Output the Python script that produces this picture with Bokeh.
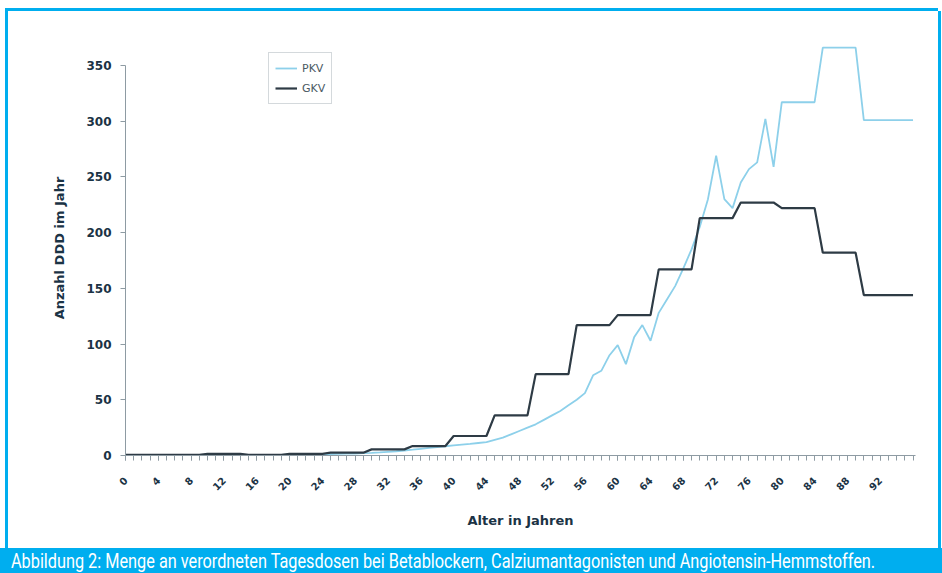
import math
from bokeh.plotting import figure
from bokeh.layouts import column, row
from bokeh.models import (Div, Spacer, Legend, LegendItem, FixedTicker, Range1d)
from bokeh.embed import file_html
from bokeh.resources import INLINE

# ---- data -------------------------------------------------------------
AGES = list(range(0, 97))

PKV = [0.3, 0.3, 0.3, 0.3, 0.3, 0.3, 0.3, 0.3, 0.3, 0.3,
       0.5, 0.5, 0.5, 0.5, 0.5, 0.5, 0.5, 0.5, 0.5, 0.5,
       0.8, 0.9, 1.0, 1.1, 1.2, 1.3, 1.5, 1.6, 1.8, 2.1,
       2.4, 2.8, 3.3, 3.8, 4.5, 5.2, 6.0, 6.8, 7.5, 8.3,
       9.0, 9.7, 10.4, 11.2, 12.0, 14.0, 16.0, 19.0, 22.0, 25.0,
       28.0, 32.0, 36.0, 40.0, 45.0, 50.0, 56.0, 72.0, 76.0, 90.0,
       99.0, 82.0, 106.0, 117.0, 103.0, 128.0, 140.0, 152.0, 168.0, 185.0,
       205.0, 230.0, 269.0, 230.0, 222.0, 245.0, 257.0, 263.0, 302.0, 259.0,
       317.0, 317.0, 317.0, 317.0, 317.0, 366.0, 366.0, 366.0, 366.0, 366.0,
       301.0, 301.0, 301.0, 301.0, 301.0, 301.0, 301.0]

GKV = [0.5, 0.5, 0.5, 0.5, 0.5, 0.5, 0.5, 0.5, 0.5, 0.5,
       1.5, 1.5, 1.5, 1.5, 1.5, 0.5, 0.5, 0.5, 0.5, 0.5,
       1.5, 1.5, 1.5, 1.5, 1.5, 2.5, 2.5, 2.5, 2.5, 2.5,
       5.5, 5.5, 5.5, 5.5, 5.5, 8.5, 8.5, 8.5, 8.5, 8.5,
       17.5, 17.5, 17.5, 17.5, 17.5, 36.0, 36.0, 36.0, 36.0, 36.0,
       73.0, 73.0, 73.0, 73.0, 73.0, 117.0, 117.0, 117.0, 117.0, 117.0,
       126.0, 126.0, 126.0, 126.0, 126.0, 167.0, 167.0, 167.0, 167.0, 167.0,
       213.0, 213.0, 213.0, 213.0, 213.0, 227.0, 227.0, 227.0, 227.0, 227.0,
       222.0, 222.0, 222.0, 222.0, 222.0, 182.0, 182.0, 182.0, 182.0, 182.0,
       144.0, 144.0, 144.0, 144.0, 144.0, 144.0, 144.0]

X_TICKS = [0, 4, 8, 12, 16, 20, 24, 28, 32, 36, 40, 44, 48, 52, 56, 60,
           64, 68, 72, 76, 80, 84, 88, 92]
Y_TICKS = [0, 50, 100, 150, 200, 250, 300, 350]

SERIES_NAMES = ["PKV", "GKV"]
X_TITLE = "Alter in Jahren"
Y_TITLE = "Anzahl DDD im Jahr"
CAPTION = ("Abbildung 2: Menge an verordneten Tagesdosen bei Betablockern, "
           "Calziumantagonisten und Angiotensin-Hemmstoffen.")

# ---- styling ----------------------------------------------------------
CYAN = "#00aeef"
LIGHT = "#8dd0ea"
DARK = "#2e3b45"
TXT = "#1b3345"
AXIS = "#8e9ba3"
BOLD_FONT = "DejaVu Sans"

PW, PH = 930, 537   # chart figure inside the cyan frame

p = figure(width=PW, height=PH, output_backend="svg", toolbar_location=None,
           x_range=Range1d(0, 96.3), y_range=Range1d(0, 372.4),
           min_border_left=117, min_border_right=23,
           min_border_top=29, min_border_bottom=93)
p.outline_line_color = None
p.grid.visible = False
p.background_fill_color = "white"
p.border_fill_color = "white"

r_pkv = p.line(AGES, PKV, line_color=LIGHT, line_width=1.8)
r_gkv = p.line(AGES, GKV, line_color=DARK, line_width=2.2)

# axes
xa = p.xaxis[0]
xa.ticker = FixedTicker(ticks=X_TICKS, minor_ticks=AGES)
xa.major_label_orientation = math.pi / 4
xa.major_label_standoff = 18
xa.major_label_text_font = BOLD_FONT
xa.major_label_text_font_style = "bold"
xa.major_label_text_font_size = "10px"
xa.major_label_text_color = TXT
xa.axis_line_color = AXIS
xa.major_tick_line_color = AXIS
xa.minor_tick_line_color = AXIS
xa.major_tick_in = 0
xa.major_tick_out = 5
xa.minor_tick_in = 0
xa.minor_tick_out = 5
xa.axis_label = X_TITLE
xa.axis_label_text_font = BOLD_FONT
xa.axis_label_text_font_style = "bold"
xa.axis_label_text_font_size = "13px"
xa.axis_label_text_color = TXT
xa.axis_label_standoff = 16

ya = p.yaxis[0]
ya.ticker = FixedTicker(ticks=Y_TICKS)
ya.bounds = (0, 350)
ya.major_label_text_font = BOLD_FONT
ya.major_label_text_font_style = "bold"
ya.major_label_text_font_size = "12px"
ya.major_label_text_color = TXT
ya.major_label_standoff = 9
ya.axis_line_color = AXIS
ya.major_tick_line_color = AXIS
ya.minor_tick_line_color = None
ya.major_tick_in = 0
ya.major_tick_out = 5
ya.axis_label = Y_TITLE
ya.axis_label_text_font = BOLD_FONT
ya.axis_label_text_font_style = "bold"
ya.axis_label_text_font_size = "13px"
ya.axis_label_text_color = TXT
ya.axis_label_standoff = 16

legend = Legend(items=[LegendItem(label=SERIES_NAMES[0], renderers=[r_pkv]),
                       LegendItem(label=SERIES_NAMES[1], renderers=[r_gkv])],
                location=(143, 351))
legend.border_line_color = "#aab4ba"
legend.background_fill_color = "white"
legend.label_text_font = "DejaVu Sans"
legend.label_text_font_size = "11px"
legend.label_text_color = "#4a5963"
legend.glyph_width = 22
legend.glyph_height = 18
legend.label_height = 18
legend.label_standoff = 5
legend.padding = 6
legend.spacing = 2
legend.margin = 0
p.add_layout(legend)

# ---- cyan frame built from plain blocks, and caption band --------------
def block(w, h, color):
    return Div(text="", width=w, height=h, margin=0,
               styles={"background-color": color})

top_gap = Spacer(width=942, height=8, margin=0)
top_line = row(Spacer(width=5, height=3, margin=0), block(933, 3, CYAN),
               spacing=0, margin=0)
middle = row(Spacer(width=5, height=PH, margin=0), block(3, PH, CYAN), p,
             block(3, PH, CYAN), spacing=0, margin=0)
caption = Div(
    text=('<span style="display:inline-block; transform:scaleX(0.775); '
          'transform-origin:0 50%; white-space:nowrap;">' + CAPTION + '</span>'),
    width=942, height=25, margin=0,
    styles={"background-color": CYAN, "color": "white",
            "font-family": "Roboto", "font-size": "21px",
            "line-height": "27px", "padding-left": "11px",
            "box-sizing": "border-box", "overflow": "hidden"})

layout = column(top_gap, top_line, middle, caption, spacing=0, margin=0)
open("out.html", "w").write(file_html(layout, INLINE))
